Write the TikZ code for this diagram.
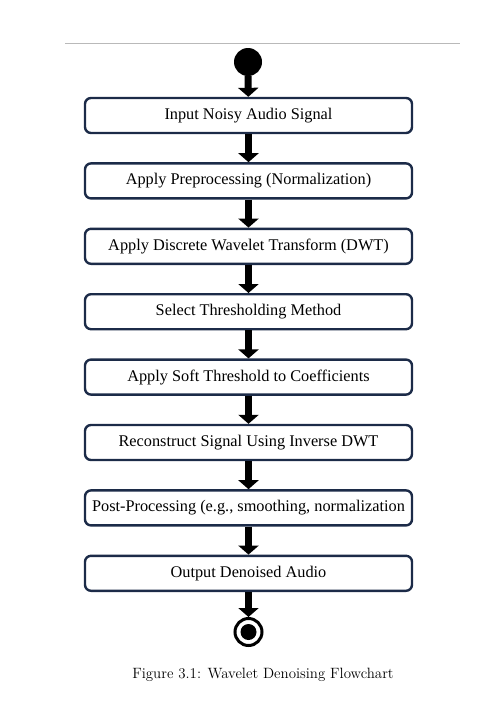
\documentclass[tikz,border=0pt]{standalone}
\usepackage{fontspec}
\newfontfamily\boxfont{Liberation Serif}
\usetikzlibrary{positioning,arrows.meta}
\definecolor{boxnavy}{RGB}{28,43,72}

\begin{document}
\begin{tikzpicture}[
  % one unit is one pixel of the 502x726 page, y grows downward
  x=1pt,
  y=-1pt,
  node distance=28pt,
  stepbox/.style={draw=boxnavy, line width=2.4pt, rounded corners=6pt,
    minimum width=327pt, minimum height=35pt, inner sep=0pt,
    font=\boxfont\fontsize{16.3}{18}\selectfont},
  flowarrow/.style={line width=7pt, -{Triangle[width=20pt,length=9pt]}}
]
\useasboundingbox (0,0) rectangle (502,726);

% rule above the figure
\draw[gray!55, line width=1pt] (65,43) -- (460,43);

% start dot
\node[circle, fill=black, minimum size=28pt, inner sep=0pt] (start) at (248,62) {};

% the eight steps, stacked downward
\node[stepbox] (input) at (248.5,115.5) {Input Noisy Audio Signal};
\node[stepbox, below=of input] (prep) {Apply Preprocessing (Normalization)};
\node[stepbox, below=of prep] (dwt) {Apply Discrete Wavelet Transform (DWT)};
\node[stepbox, below=of dwt] (method) {Select Thresholding Method};
\node[stepbox, below=of method] (soft) {Apply Soft Threshold to Coefficients};
\node[stepbox, below=of soft] (recon) {Reconstruct Signal Using Inverse DWT};
\node[stepbox, below=of recon] (post) {Post-Processing (e.g., smoothing, normalization};
\node[stepbox, below=of post] (output) {Output Denoised Audio};

% end dot: ring with a filled centre
\node[circle, draw=black, line width=3pt, minimum size=27pt, inner sep=0pt] (stop) at (248.5,632) {};
\fill (stop.center) circle (8pt);

% arrows
\draw[flowarrow] (start) -- (input);
\draw[flowarrow] (input) -- (prep);
\draw[flowarrow] (prep) -- (dwt);
\draw[flowarrow] (dwt) -- (method);
\draw[flowarrow] (method) -- (soft);
\draw[flowarrow] (soft) -- (recon);
\draw[flowarrow] (recon) -- (post);
\draw[flowarrow] (post) -- (output);
\draw[flowarrow] (output) -- (stop);

% caption
\node[font=\fontsize{14.9}{17}\selectfont] (caption) at (263,675) {Figure 3.1: Wavelet Denoising Flowchart};

\end{tikzpicture}
\end{document}
